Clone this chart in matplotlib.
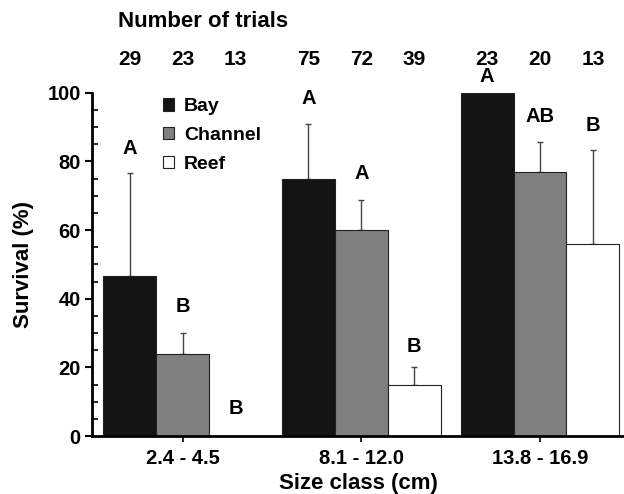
import numpy as np
import matplotlib
matplotlib.use('Agg')
from matplotlib import pyplot as plt
from matplotlib.patches import Patch
from matplotlib.ticker import MultipleLocator

plt.rcParams['font.family'] = ['Liberation Sans', 'DejaVu Sans']
plt.rcParams['font.weight'] = 'bold'

#%% Data
size_classes = ['2.4 - 4.5', '8.1 - 12.0', '13.8 - 16.9']
habitats = ['Bay', 'Channel', 'Reef']
survival = {
    'Bay':     [46.5, 75.0, 100.0],
    'Channel': [24.0, 60.0, 77.0],
    'Reef':    [0.0, 15.0, 56.0],
}
errors = {
    'Bay':     [30.0, 16.0, 0.0],
    'Channel': [6.0, 8.6, 8.7],
    'Reef':    [0.0, 5.0, 27.3],
}
letters = {
    'Bay':     ['A', 'A', 'A'],
    'Channel': ['B', 'A', 'AB'],
    'Reef':    ['B', 'B', 'B'],
}
letter_y = {
    'Bay':     [83.8, 98.3, 104.7],
    'Channel': [37.7, 76.5, 93.2],
    'Reef':    [7.9, 26.0, 90.5],
}
n_trials = {
    'Bay':     [29, 75, 23],
    'Channel': [23, 72, 20],
    'Reef':    [13, 39, 13],
}

colors = {'Bay': '#141414', 'Channel': '#808080', 'Reef': '#ffffff'}
barw = 0.296

#%% Plot
fig = plt.figure(figsize=(6.24, 4.94), dpi=100)
ax = fig.add_axes([0.1474, 0.1174, 0.8526, 0.695])

x = np.arange(len(size_classes))
for i, hab in enumerate(habitats):
    xpos = x + (i - 1) * barw
    ax.bar(xpos, survival[hab], width=barw, color=colors[hab],
           edgecolor='#222222', linewidth=0.8, zorder=2)
    err = np.array(errors[hab])
    has = err > 0
    ax.errorbar(xpos[has], np.array(survival[hab])[has],
                yerr=[np.zeros(has.sum()), err[has]], fmt='none',
                ecolor='#444444', elinewidth=1.0, capsize=2.2, capthick=1.0,
                zorder=1)
    for j in range(len(x)):
        ax.text(xpos[j], letter_y[hab][j], letters[hab][j], ha='center',
                va='center', fontsize=14.5, fontweight='bold', clip_on=False)
        ax.text(xpos[j], 109.8, str(n_trials[hab][j]), ha='center',
                va='center', fontsize=15, fontweight='bold', clip_on=False)

ax.text(118 / 624, 1 - 21.7 / 494, 'Number of trials', transform=fig.transFigure,
        ha='left', va='center', fontsize=16, fontweight='bold')

ax.set_xlim(-0.507, 2.47)
ax.set_ylim(0, 100)
ax.set_xticks(x)
ax.set_xticklabels(size_classes, fontweight='bold')
ax.yaxis.set_major_locator(MultipleLocator(20))
ax.yaxis.set_minor_locator(MultipleLocator(5))
ax.tick_params(axis='y', which='major', direction='out', length=5, width=1.5,
               labelsize=14.5, pad=3)
ax.tick_params(axis='y', which='minor', direction='in', length=4, width=1.2)
ax.tick_params(axis='x', which='major', direction='out', length=4, width=1.2,
               labelsize=14.5, pad=5)
for lab in ax.get_yticklabels():
    lab.set_fontweight('bold')

ax.spines['top'].set_visible(False)
ax.spines['right'].set_visible(False)
ax.spines['left'].set_linewidth(2)
ax.spines['bottom'].set_linewidth(2)

ax.set_ylabel('Survival (%)', fontsize=16, fontweight='bold', labelpad=10)
ax.set_xlabel('Size class (cm)', fontsize=16, fontweight='bold', labelpad=4)

handles = [Patch(facecolor=colors[h], edgecolor='#222222', linewidth=0.8) for h in habitats]
leg = ax.legend(handles, habitats, loc='upper left', bbox_to_anchor=(0.1, 1.035),
                frameon=False, handlelength=0.6, handleheight=0.6,
                handletextpad=0.5, labelspacing=0.6,
                prop={'weight': 'bold', 'size': 14})

fig.savefig('out.png', dpi=100)
